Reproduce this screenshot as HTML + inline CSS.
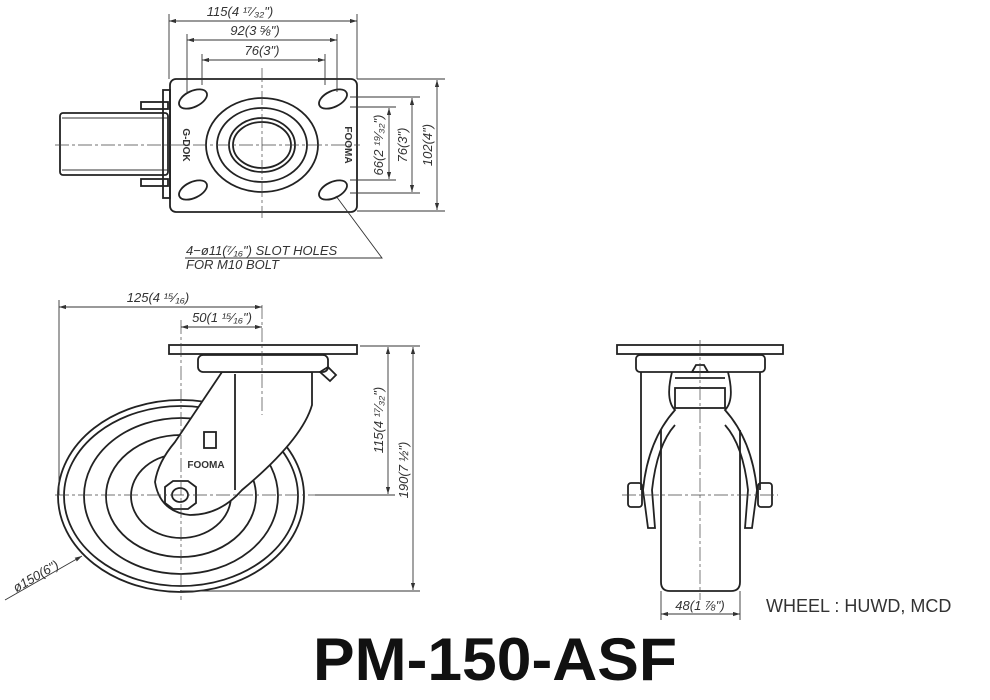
<!DOCTYPE html>
<html><head><meta charset="utf-8"><style>
html,body{margin:0;padding:0;background:#fff;width:990px;height:700px;overflow:hidden}
svg{display:block}
.l{stroke:#222;fill:none;stroke-width:1.8}
.t{stroke:#333;fill:none;stroke-width:0.9}
.c{stroke:#444;fill:none;stroke-width:0.7;stroke-dasharray:14 3 3 3}
.d{font-family:"Liberation Sans",sans-serif;font-style:italic;font-size:13px;fill:#333}
</style></head><body>
<svg width="990" height="700" viewBox="0 0 990 700" xmlns="http://www.w3.org/2000/svg">
<defs><marker id="a" viewBox="0 0 10 6" refX="10" refY="3" markerWidth="8" markerHeight="5" orient="auto-start-reverse"><path d="M0,0 L10,3 L0,6z" fill="#333"/></marker></defs>

<!-- TOP VIEW -->
<rect class="l" x="60" y="113" width="108" height="62" rx="3"/>
<line class="t" x1="62" y1="118" x2="168" y2="118"/><line class="t" x1="62" y1="170" x2="168" y2="170"/>
<rect class="l" x="141" y="102" width="27" height="7"/><rect class="l" x="141" y="179" width="27" height="7"/>
<rect class="l" x="163" y="90" width="7" height="108"/>
<rect class="l" x="170" y="79" width="187" height="133" rx="6"/>
<g class="l">
<ellipse cx="193" cy="99" rx="15" ry="8" transform="rotate(-25 193 99)"/>
<ellipse cx="333" cy="99" rx="15" ry="8" transform="rotate(-25 333 99)"/>
<ellipse cx="193" cy="190" rx="15" ry="8" transform="rotate(-25 193 190)"/>
<ellipse cx="333" cy="190" rx="15" ry="8" transform="rotate(-25 333 190)"/>
<ellipse cx="262" cy="145" rx="56" ry="47"/>
<ellipse cx="262" cy="145" rx="45" ry="37"/>
<ellipse cx="262" cy="145" rx="33" ry="27"/>
<ellipse cx="262" cy="145" rx="29" ry="23"/>
</g>
<line class="c" x1="262" y1="68" x2="262" y2="218"/>
<line class="c" x1="55" y1="145" x2="360" y2="145"/>
<text x="183" y="145" font-family="Liberation Sans,sans-serif" font-weight="bold" font-size="10" fill="#333" text-anchor="middle" transform="rotate(90 183 145)">G-DOK</text>
<text x="345" y="145" font-family="Liberation Sans,sans-serif" font-weight="bold" font-size="10" fill="#333" text-anchor="middle" transform="rotate(90 345 145)">FOOMA</text>
<g class="t">
<line x1="169" y1="14" x2="169" y2="79"/><line x1="357" y1="14" x2="357" y2="79"/>
<line x1="187" y1="34" x2="187" y2="92"/><line x1="337" y1="34" x2="337" y2="92"/>
<line x1="202" y1="54" x2="202" y2="85"/><line x1="325" y1="54" x2="325" y2="85"/>
<line x1="169" y1="21" x2="357" y2="21" marker-start="url(#a)" marker-end="url(#a)"/>
<line x1="187" y1="40" x2="337" y2="40" marker-start="url(#a)" marker-end="url(#a)"/>
<line x1="202" y1="60" x2="325" y2="60" marker-start="url(#a)" marker-end="url(#a)"/>
<line x1="357" y1="79" x2="445" y2="79"/><line x1="357" y1="211" x2="445" y2="211"/>
<line x1="350" y1="97" x2="420" y2="97"/><line x1="350" y1="193" x2="420" y2="193"/>
<line x1="350" y1="107" x2="396" y2="107"/><line x1="350" y1="180" x2="396" y2="180"/>
<line x1="437" y1="80" x2="437" y2="210" marker-start="url(#a)" marker-end="url(#a)"/>
<line x1="412" y1="98" x2="412" y2="192" marker-start="url(#a)" marker-end="url(#a)"/>
<line x1="389" y1="108" x2="389" y2="179" marker-start="url(#a)" marker-end="url(#a)"/>
<polyline points="336,196 382,258 185,258"/>
</g>
<text class="d" x="240" y="16" text-anchor="middle">115(4 ¹⁷⁄₃₂")</text>
<text class="d" x="255" y="35" text-anchor="middle">92(3 ⅝")</text>
<text class="d" x="262" y="55" text-anchor="middle">76(3")</text>
<text class="d" x="432" y="145" text-anchor="middle" transform="rotate(-90 432 145)">102(4")</text>
<text class="d" x="407" y="145" text-anchor="middle" transform="rotate(-90 407 145)">76(3")</text>
<text class="d" x="383" y="145" text-anchor="middle" transform="rotate(-90 383 145)">66(2 ¹⁹⁄₃₂")</text>
<text class="d" x="186" y="255">4−ø11(⁷⁄₁₆") SLOT HOLES</text>
<text class="d" x="186" y="269">FOR M10 BOLT</text>

<!-- SIDE VIEW -->
<g class="l">
<ellipse cx="181" cy="496" rx="123" ry="96"/>
<ellipse cx="181" cy="496" rx="117" ry="90"/>
<ellipse cx="181" cy="496" rx="97" ry="78"/>
<ellipse cx="181" cy="496" rx="75" ry="61"/>
<ellipse cx="181" cy="496" rx="50" ry="42"/>
<path d="M222,372 L312,372 L312,405 Q302,440 242,490 Q220,515 190,515 Q160,512 155,482 Q158,462 175,442 Z" fill="#fff"/>
<line x1="235" y1="374" x2="235" y2="490"/>
<rect x="169" y="345" width="188" height="9"/>
<rect x="198" y="355" width="130" height="17" rx="5" fill="#fff"/>
<rect x="204" y="432" width="12" height="16"/>
<polygon points="165,487 173,481 188,481 196,487 196,503 188,509 173,509 165,503"/>
<ellipse cx="180" cy="495" rx="8" ry="7"/>
<path d="M320,372 l8,-5 l8,8 l-6,6 z"/>
</g>
<text x="206" y="468" font-family="Liberation Sans,sans-serif" font-weight="bold" font-size="10" fill="#333" text-anchor="middle">FOOMA</text>
<line class="c" x1="181" y1="320" x2="181" y2="600"/>
<line class="c" x1="55" y1="495" x2="315" y2="495"/>
<line class="c" x1="262" y1="305" x2="262" y2="415"/>
<g class="t">
<line x1="59" y1="300" x2="59" y2="495"/>
<line x1="59" y1="307" x2="262" y2="307" marker-start="url(#a)" marker-end="url(#a)"/>
<line x1="181" y1="327" x2="262" y2="327" marker-start="url(#a)" marker-end="url(#a)"/>
<line x1="360" y1="346" x2="420" y2="346"/><line x1="315" y1="495" x2="395" y2="495"/>
<line x1="180" y1="591" x2="420" y2="591"/>
<line x1="388" y1="347" x2="388" y2="494" marker-start="url(#a)" marker-end="url(#a)"/>
<line x1="413" y1="347" x2="413" y2="590" marker-start="url(#a)" marker-end="url(#a)"/>
<line x1="5" y1="600" x2="82" y2="556" marker-end="url(#a)"/>
</g>
<text class="d" x="158" y="302" text-anchor="middle">125(4 ¹⁵⁄₁₆)</text>
<text class="d" x="222" y="322" text-anchor="middle">50(1 ¹⁵⁄₁₆")</text>
<text class="d" x="383" y="420" text-anchor="middle" transform="rotate(-90 383 420)">115(4 ¹⁷⁄₃₂")</text>
<text class="d" x="408" y="470" text-anchor="middle" transform="rotate(-90 408 470)">190(7 ½")</text>
<text class="d" x="38" y="580" text-anchor="middle" transform="rotate(-30 38 580)">ø150(6")</text>

<!-- FRONT VIEW -->
<g class="l">
<rect x="617" y="345" width="166" height="9"/>
<rect x="636" y="355" width="129" height="17" rx="4"/>
<line x1="641" y1="372" x2="641" y2="490"/><line x1="760" y1="372" x2="760" y2="490"/>
<path d="M661,430 L661,582 Q661,591 670,591 L731,591 Q740,591 740,582 L740,430"/>
<rect x="675" y="388" width="50" height="20"/>
<line x1="675" y1="378" x2="725" y2="378"/>
<path d="M672,372 Q665,400 675,410 Q648,440 643,490 L648,528 L655,528 L652,490 Q657,445 675,425"/>
<path d="M728,372 Q735,400 725,410 Q752,440 757,490 L752,528 L745,528 L748,490 Q743,445 725,425"/>
<rect x="628" y="483" width="14" height="24" rx="3"/><rect x="758" y="483" width="14" height="24" rx="3"/>
<path d="M692,372 l4,-7 h8 l4,7 z"/>
</g>
<line class="c" x1="700" y1="340" x2="700" y2="600"/>
<line class="c" x1="622" y1="495" x2="778" y2="495"/>
<g class="t">
<line x1="661" y1="591" x2="661" y2="620"/><line x1="740" y1="591" x2="740" y2="620"/>
<line x1="661" y1="614" x2="740" y2="614" marker-start="url(#a)" marker-end="url(#a)"/>
</g>
<text class="d" x="700" y="610" text-anchor="middle">48(1 ⅞")</text>
<text x="766" y="612" font-family="Liberation Sans,sans-serif" font-size="18" fill="#333">WHEEL : HUWD, MCD</text>

<text x="495" y="680" font-family="Liberation Sans,sans-serif" font-weight="bold" font-size="60" fill="#111" text-anchor="middle" textLength="364" lengthAdjust="spacingAndGlyphs">PM-150-ASF</text>
</svg>
</body></html>
